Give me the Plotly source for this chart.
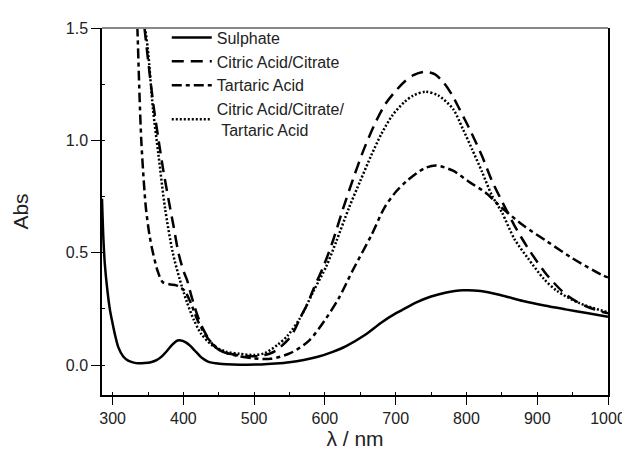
import plotly.graph_objects as go

# Sulphate
wl_s = [285, 287, 289, 292, 296, 299, 303, 308, 315, 322, 330, 336, 345, 354, 362, 370, 377, 384, 390, 394,
        399, 404, 409, 416, 422, 427, 434, 440, 446, 455, 470, 490, 510, 530, 550, 570, 590, 610, 630, 657,
        680, 700, 712, 730, 750, 770, 795, 820, 850, 880, 910, 940, 970, 1000]
abs_s = [0.74, 0.56, 0.45, 0.35, 0.25, 0.20, 0.14, 0.08, 0.038, 0.02, 0.011, 0.008, 0.009, 0.013, 0.022, 0.04,
         0.064, 0.09, 0.107, 0.111, 0.108, 0.10, 0.088, 0.065, 0.045, 0.03, 0.017, 0.011, 0.008, 0.005, 0.003,
         0.002, 0.003, 0.007, 0.013, 0.023, 0.037, 0.058, 0.085, 0.135, 0.19, 0.23, 0.25, 0.28, 0.305, 0.322,
         0.333, 0.33, 0.31, 0.285, 0.265, 0.248, 0.232, 0.215]

# Citric Acid/Citrate
wl_c = [336, 340, 345, 350, 358, 365, 372, 380, 386, 393, 400, 405, 412, 420, 428, 436, 445, 455, 470, 490,
        505, 515, 525, 533, 547, 556, 565, 575, 584, 598, 611, 625, 640, 655, 670, 685, 700, 712, 725, 740,
        755, 767, 780, 790, 806, 822, 836, 850, 868, 887, 914, 942, 970, 1000]
abs_c = [1.75, 1.62, 1.5, 1.36, 1.15, 1.0, 0.86, 0.72, 0.62, 0.5, 0.42, 0.38, 0.30, 0.22, 0.16, 0.115, 0.08,
         0.06, 0.048, 0.04, 0.04, 0.045, 0.055, 0.07, 0.11, 0.15, 0.21, 0.27, 0.34, 0.44, 0.55, 0.69, 0.83,
         0.96, 1.07, 1.16, 1.22, 1.26, 1.29, 1.305, 1.295, 1.26, 1.2, 1.14, 1.04, 0.93, 0.82, 0.73, 0.62,
         0.52, 0.40, 0.31, 0.26, 0.23]

# Tartaric Acid
wl_t = [331, 335, 338, 340.5, 344, 347, 352, 357, 363.5, 370.5, 380, 390, 396, 402, 410, 420, 432, 443, 455,
        478, 500, 523, 551, 578, 602, 620, 639, 666, 684, 700, 716, 740, 757, 781, 804, 826, 850, 881, 914,
        950, 992, 1000]
abs_t = [1.8, 1.5, 1.2, 1.0, 0.82, 0.70, 0.58, 0.50, 0.42, 0.37, 0.36, 0.355, 0.345, 0.33, 0.28, 0.20, 0.13,
         0.09, 0.06, 0.04, 0.03, 0.028, 0.053, 0.11, 0.21, 0.30, 0.42, 0.58, 0.70, 0.77, 0.82, 0.875, 0.888,
         0.865, 0.815, 0.77, 0.70, 0.62, 0.55, 0.475, 0.40, 0.39]

# Citric Acid/Citrate/Tartaric Acid
wl_m = [338, 342, 346, 350, 357, 365, 374, 385, 395, 405, 415, 425, 440, 460, 480, 500, 515, 533, 547, 565,
        584, 602, 616, 634, 650, 665, 680, 695, 712, 725, 742, 760, 781, 795, 808, 822, 836, 850, 868, 887,
        909, 928, 960, 1000]
abs_m = [1.75, 1.6, 1.5, 1.4, 1.14, 0.93, 0.70, 0.50, 0.38, 0.28, 0.20, 0.14, 0.09, 0.06, 0.05, 0.045, 0.053,
         0.09, 0.13, 0.21, 0.33, 0.44, 0.55, 0.70, 0.82, 0.93, 1.03, 1.11, 1.17, 1.20, 1.216, 1.2, 1.14, 1.05,
         0.96, 0.86, 0.755, 0.68, 0.56, 0.475, 0.385, 0.33, 0.275, 0.235]

names = ["Sulphate", "Citric Acid/Citrate", "Tartaric Acid",
         "Citric Acid/Citrate/<br>&nbsp;Tartaric Acid"]

x_ticks = [300, 400, 500, 600, 700, 800, 900, 1000]
y_ticks = [0.0, 0.5, 1.0, 1.5]
y_tick_text = ["0.0", "0.5", "1.0", "1.5"]

fig = go.Figure()
series = [
    (wl_s, abs_s, names[0], "solid", 2.5),
    (wl_c, abs_c, names[1], "12px,7px", 2.5),
    (wl_t, abs_t, names[2], "10px,4px,4px,4px", 2.5),
    (wl_m, abs_m, names[3], "2px,2px", 2.5),
]
for xs, ys, nm, dash, w in series:
    fig.add_trace(go.Scatter(x=xs, y=ys, name=nm, mode="lines",
                             line=dict(color="black", width=w, dash=dash, shape="spline", smoothing=0.8)))

font = "Liberation Sans, Arial, sans-serif"
fig.update_layout(
    width=630, height=452,
    margin=dict(l=90, r=21, t=19, b=65),
    paper_bgcolor="white", plot_bgcolor="white",
    font=dict(family=font, color="#222"),
    showlegend=True,
    legend=dict(x=0.128, y=1.02, xanchor="left", yanchor="top", bgcolor="rgba(0,0,0,0)",
                font=dict(size=16, color="#222"), itemwidth=40, tracegroupgap=0),
    xaxis=dict(range=[285, 1000], tickvals=x_ticks, ticks="outside", ticklen=8, tickwidth=1.3,
               tickcolor="black", showline=True, linecolor="black", linewidth=1.5, showgrid=False,
               zeroline=False, tickfont=dict(size=16),
               minor=dict(ticks="inside", ticklen=3, dtick=50, tickcolor="black", showgrid=False),
               title=dict(text="λ / nm", font=dict(size=21), standoff=0)),
    yaxis=dict(range=[-0.133, 1.5], tickvals=y_ticks, ticktext=y_tick_text, ticks="outside", ticklen=9,
               tickwidth=1.3, tickcolor="black", showline=True, linecolor="black", linewidth=1.5,
               mirror=True, showgrid=False, zeroline=False, tickfont=dict(size=16),
               minor=dict(ticks="inside", ticklen=3, dtick=0.25, tickcolor="black", showgrid=False),
               title=dict(text="Abs", font=dict(size=21), standoff=31)),
)
fig.add_shape(type="line", xref="paper", yref="paper", x0=0, x1=1, y0=1, y1=1,
              line=dict(color="#888", width=2))
fig.write_html("out.html")
